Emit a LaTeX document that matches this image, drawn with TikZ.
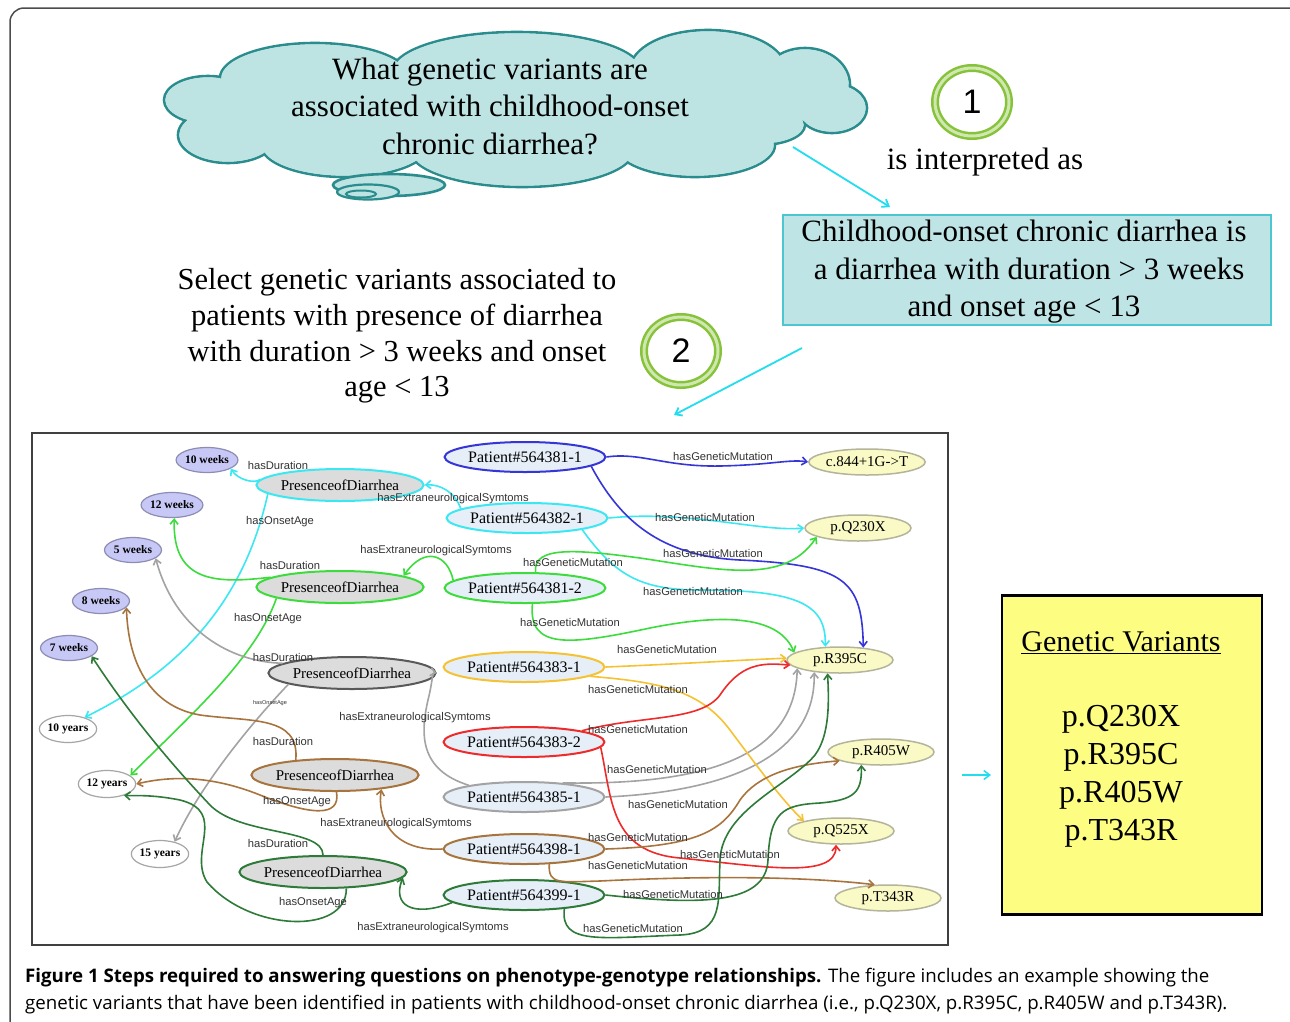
\documentclass[tikz,border=0pt]{standalone}
\usepackage{fontspec}
\setmainfont{Liberation Serif}
\newfontfamily\lblfont{Liberation Sans}
\newfontfamily\capfont{Open Sans}
\usetikzlibrary{shapes.geometric,arrows.meta}
\definecolor{cloudfill}{HTML}{BDE3E3}
\definecolor{cloudline}{HTML}{2A8C8C}
\definecolor{boxfill}{HTML}{BFE4E6}
\definecolor{boxline}{HTML}{4CC6CF}
\definecolor{ringgreen}{HTML}{86C23A}
\definecolor{ringlight}{HTML}{CFE8B0}
\definecolor{arrcyan}{HTML}{22DDEE}
\definecolor{ecyan}{HTML}{3BE8F2}
\definecolor{eblue}{HTML}{3535D8}
\definecolor{egreen}{HTML}{3CDC3C}
\definecolor{egray}{HTML}{A3A3A3}
\definecolor{eyellow}{HTML}{F4C232}
\definecolor{ered}{HTML}{EE2A2A}
\definecolor{ebrown}{HTML}{A8743E}
\definecolor{edgreen}{HTML}{2E7A38}
\definecolor{ptfill}{HTML}{E6EEF8}
\definecolor{prfill}{HTML}{DCDCDC}
\definecolor{mutfill}{HTML}{FAFAC6}
\definecolor{mutline}{HTML}{B4B49A}
\definecolor{wkfill}{HTML}{C8C8F6}
\definecolor{wkline}{HTML}{8C8CB4}
\definecolor{gvfill}{HTML}{FDFD82}
\tikzset{
  big/.style={font=\fontsize{31}{37.5}\selectfont, align=center, inner sep=0},
  ring/.style={ellipse, draw=ringgreen, line width=2.5pt, double=ringlight, double distance=3pt, fill=white, minimum width=74pt, minimum height=68pt, inner sep=0, font=\lblfont\fontsize{34}{34}\selectfont},
  steparrow/.style={arrcyan, line width=1.8pt, -{Straight Barb[length=6pt,width=9pt]}},
  ptn/.style={ellipse, fill=ptfill, line width=2pt, minimum width=134pt, minimum height=30pt, inner sep=0, font=\fontsize{16}{16}\selectfont},
  prn/.style={ellipse, fill=prfill, line width=2pt, minimum width=136pt, minimum height=32pt, inner sep=0, font=\fontsize{15}{15}\selectfont},
  mutn/.style={ellipse, fill=mutfill, draw=mutline, line width=1.5pt, minimum width=106pt, minimum height=26pt, inner sep=0, font=\fontsize{15}{15}\selectfont},
  wkn/.style={ellipse, fill=wkfill, draw=wkline, line width=1.2pt, minimum width=57pt, minimum height=25pt, inner sep=0, font=\bfseries\fontsize{11.5}{11.5}\selectfont},
  yrn/.style={ellipse, fill=white, draw=gray!70, line width=1.2pt, minimum width=56pt, minimum height=27pt, inner sep=0, font=\bfseries\fontsize{11.5}{11.5}\selectfont},
  lbl/.style={font=\lblfont\fontsize{11.2}{11.2}\selectfont, inner sep=0, text=black!80},
  rel/.style={line width=1.6pt, -{Straight Barb[length=5pt,width=8pt]}},
  puff/.style={draw=cloudline, line width=2.6pt, fill=cloudfill},
  pufffill/.style={fill=cloudfill},
}
\begin{document}
\begin{tikzpicture}[x=1pt,y=-1pt]
\useasboundingbox (0,0) rectangle (1290,1021);
\clip (0,0) rectangle (1290,1021);
\fill[white] (0,0) rectangle (1290,1021);
\draw[line width=1.5pt, black!70, rounded corners=14pt] (10,8) rectangle (1320,1050);

% ---- cloud ----
\def\cloudlobes{208/100/44/24, 228/135/50/28, 315/78/95/35, 517/72/125/40, 708/70/78/40, 805/85/45/37, 832/108/35/25, 760/125/45/20, 695/145/80/32, 522/150/112/37, 345/145/84/32}
\foreach \cx/\cy/\rx/\ry in \cloudlobes
  \path[puff] (\cx,\cy) ellipse [x radius=\rx, y radius=\ry];
\foreach \cx/\cy/\rx/\ry in \cloudlobes
  \path[pufffill] (\cx,\cy) ellipse [x radius={\rx-1.3}, y radius={\ry-1.3}];
\path[pufffill] (515,110) ellipse [x radius=285, y radius=48];
\path[puff] (389,185) ellipse [x radius=56, y radius=11];
\path[puff, line width=2.2pt] (368,192) ellipse [x radius=31, y radius=7.5];
\path[puff, line width=2pt] (361,194) ellipse [x radius=15, y radius=3.5];
\node[big] (question) at (490,106) {What genetic variants are\\associated with childhood-onset\\chronic diarrhea?};

\node[ring] (one) at (972,102) {1};
\node[big] (interp) at (985,162) {is interpreted as};
\node[draw=boxline, line width=1.8pt, fill=boxfill, minimum width=488pt, minimum height=110pt, inner sep=0] (defbox) at (1027,270) {};
\node[big] (deftext) at (1024,272) {Childhood-onset chronic diarrhea is\\\,\,a diarrhea with duration > 3 weeks\\and onset age < 13};
\node[big, font=\fontsize{30.5}{35.7}\selectfont] (select) at (397,336) {Select genetic variants associated to\\patients with presence of diarrhea\\with duration > 3 weeks and onset\\age < 13};
\node[ring] (two) at (681,351) {2};

\coordinate (a1s) at (793,147);
\coordinate (a1e) at (890,207);
\coordinate (a2s) at (802,348);
\coordinate (a2e) at (674,415);
\draw[steparrow] (a1s) -- (a1e);
\draw[steparrow] (a2s) -- (a2e);

% ---- graph frame ----
\node[draw=black!75, line width=2pt, minimum width=916pt, minimum height=512pt, inner sep=0] (graph) at (490,689) {};

% ---- value nodes ----
\node[wkn] (w10) at (207,460) {10 weeks};
\node[wkn] (w12) at (172,505) {12 weeks};
\node[wkn] (w5) at (133,550) {5 weeks};
\node[wkn] (w8) at (101,601) {8 weeks};
\node[wkn] (w7) at (69,648) {7 weeks};
\node[yrn] (y10) at (68,729) {10 years};
\node[yrn] (y12) at (107,784) {12 years};
\node[yrn] (y15) at (160,854) {15 years};

% ---- presence nodes ----
\node[prn, draw=ecyan] (pa) at (340,485) {PresenceofDiarrhea};
\node[prn, draw=egreen] (pb) at (340,587) {PresenceofDiarrhea};
\node[prn, draw=black!65] (pc) at (352,673) {PresenceofDiarrhea};
\node[prn, draw=ebrown] (pd) at (335,775) {PresenceofDiarrhea};
\node[prn, draw=edgreen] (pe) at (323,872) {PresenceofDiarrhea};

% ---- patients ----
\node[ptn, draw=eblue] (t1) at (525,457) {Patient\#564381-1};
\node[ptn, draw=ecyan] (t2) at (527,518) {Patient\#564382-1};
\node[ptn, draw=egreen] (t3) at (525,588) {Patient\#564381-2};
\node[ptn, draw=eyellow] (t4) at (524,667) {Patient\#564383-1};
\node[ptn, draw=ered] (t5) at (524,742) {Patient\#564383-2};
\node[ptn, draw=egray] (t6) at (524,797) {Patient\#564385-1};
\node[ptn, draw=ebrown] (t7) at (524,849) {Patient\#564398-1};
\node[ptn, draw=edgreen] (t8) at (524,895) {Patient\#564399-1};

% ---- mutations ----
\node[mutn] (m1) at (867,462) {c.844+1G->T};
\node[mutn] (m2) at (858,528) {p.Q230X};
\node[mutn] (m3) at (840,660) {p.R395C};
\node[mutn] (m4) at (881,752) {p.R405W};
\node[mutn] (m5) at (841,831) {p.Q525X};
\node[mutn] (m6) at (888,898) {p.T343R};

% ---- edges ----
% cyan
\draw[rel, ecyan] (t2.172) .. controls (455,492) and (440,484) .. (pa.east);
\draw[rel, ecyan] (pa.176) .. controls (255,484) and (238,480) .. (w10.-20);
\draw[rel, ecyan] (pa.187) .. controls (240,620) and (160,680) .. (y10.35);
\draw[rel, ecyan] (t2.east) .. controls (690,510) and (760,532) .. (m2.west);
\draw[rel, ecyan] (t2.-12) .. controls (615,575) and (640,590) .. (700,590) .. controls (800,590) and (826,605) .. (m3.138);
% blue
\draw[rel, eblue] (t1.east) .. controls (640,452) and (665,467) .. (720,466) .. controls (770,465) and (790,459) .. (m1.west);
\draw[rel, eblue] (t1.-8) .. controls (620,520) and (660,556) .. (740,560) .. controls (845,565) and (862,580) .. (m3.28);
% green
\draw[rel, egreen] (t3.174) .. controls (448,555) and (425,545) .. (pb.10);
\draw[rel, egreen] (pb.172) .. controls (220,583) and (172,585) .. (w12.-80);
\draw[rel, egreen] (pb.190) .. controls (255,660) and (185,720) .. (y12.20);
\draw[rel, egreen] (t3.56) .. controls (532,545) and (580,550) .. (640,558) .. controls (720,570) and (785,585) .. (m2.192);
\draw[rel, egreen] (t3.-65) .. controls (528,650) and (570,645) .. (650,628) .. controls (730,612) and (780,618) .. (m3.171);
% gray
\draw[rel, egray] (pc.172) .. controls (230,662) and (175,630) .. (w5.-20);
\draw[rel, egray] (pc.190) .. controls (245,730) and (198,790) .. (y15.40);
\draw[rel, egray] (t6.168) .. controls (420,770) and (420,735) .. (428,700) .. controls (433,680) and (432,672) .. (pc.east);
\draw[rel, egray] (t6.20) .. controls (700,785) and (795,760) .. (m3.191);
\draw[rel, egray] (t6.east) .. controls (720,792) and (816,760) .. (m3.205);
% yellow
\draw[rel, eyellow] (t4.east) .. controls (680,664) and (740,660) .. (m3.178);
\draw[rel, eyellow] (t4.-8) .. controls (660,682) and (700,690) .. (730,730) .. controls (760,770) and (782,800) .. (m5.165);
% red
\draw[rel, ered] (t5.11) .. controls (640,715) and (700,722) .. (720,695) .. controls (740,665) and (760,662) .. (m3.186);
\draw[rel, ered] (t5.-4) .. controls (612,800) and (610,852) .. (680,858) .. controls (760,866) and (836,880) .. (m5.-110);
% brown
\draw[rel, ebrown] (t7.west) .. controls (390,852) and (377,815) .. (pd.-17);
\draw[rel, ebrown] (pd.159) .. controls (300,715) and (250,722) .. (200,715) .. controls (148,706) and (128,660) .. (w8.-14);
\draw[rel, ebrown] (pd.-85) .. controls (341,818) and (310,815) .. (260,795) .. controls (210,775) and (170,776) .. (y12.east);
\draw[rel, ebrown] (t7.east) .. controls (700,846) and (722,830) .. (740,800) .. controls (760,772) and (800,764) .. (m4.192);
\draw[rel, ebrown] (t7.-31) .. controls (548,885) and (560,882) .. (600,881) .. controls (700,876) and (800,876) .. (m6.135);
% dark green
\draw[rel, edgreen] (t8.186) .. controls (412,918) and (392,905) .. (pe.-4);
\draw[rel, edgreen] (pe.north) .. controls (323,828) and (240,836) .. (210,805) .. controls (172,765) and (130,715) .. (w7.-20);
\draw[rel, edgreen] (pe.-35) .. controls (347,935) and (250,932) .. (207,882) .. controls (188,852) and (228,812) .. (180,800) .. controls (150,794) and (132,796) .. (y12.-34);
\draw[rel, edgreen] (t8.east) .. controls (700,905) and (766,905) .. (768,860) .. controls (770,812) and (782,805) .. (820,803) .. controls (855,800) and (862,792) .. (m4.213);
\draw[rel, edgreen] (t8.-19) .. controls (560,945) and (600,938) .. (680,935) .. controls (725,933) and (718,900) .. (720,860) .. controls (722,810) and (790,785) .. (815,755) .. controls (830,735) and (829,700) .. (m3.227);

% ---- edge labels ----
\node[lbl] (l1) at (278,465) {hasDuration};
\node[lbl] (l2) at (453,499) {hasExtraneurologicalSymtoms};
\node[lbl] (l3) at (280,522) {hasOnsetAge};
\node[lbl] (l4) at (436,551) {hasExtraneurologicalSymtoms};
\node[lbl] (l5) at (290,565) {hasDuration};
\node[lbl] (l6) at (268,619) {hasOnsetAge};
\node[lbl] (l7) at (283,657) {hasDuration};
\node[lbl, font=\lblfont\fontsize{5.6}{5.6}\selectfont] (l8) at (270,703) {hasOnsetAge};
\node[lbl] (l9) at (415,718) {hasExtraneurologicalSymtoms};
\node[lbl] (l10) at (283,741) {hasDuration};
\node[lbl] (l11) at (297,802) {hasOnsetAge};
\node[lbl] (l12) at (396,824) {hasExtraneurologicalSymtoms};
\node[lbl] (l13) at (278,843) {hasDuration};
\node[lbl] (l14) at (313,903) {hasOnsetAge};
\node[lbl] (l15) at (433,928) {hasExtraneurologicalSymtoms};
\node[lbl] (g1) at (723,456) {hasGeneticMutation};
\node[lbl] (g2) at (705,517) {hasGeneticMutation};
\node[lbl] (g3) at (713,553) {hasGeneticMutation};
\node[lbl] (g4) at (573,562) {hasGeneticMutation};
\node[lbl] (g5) at (693,591) {hasGeneticMutation};
\node[lbl] (g6) at (570,622) {hasGeneticMutation};
\node[lbl] (g7) at (667,649) {hasGeneticMutation};
\node[lbl] (g8) at (638,689) {hasGeneticMutation};
\node[lbl] (g9) at (638,729) {hasGeneticMutation};
\node[lbl] (g10) at (657,769) {hasGeneticMutation};
\node[lbl] (g11) at (678,804) {hasGeneticMutation};
\node[lbl] (g12) at (638,837) {hasGeneticMutation};
\node[lbl] (g13) at (730,854) {hasGeneticMutation};
\node[lbl] (g14) at (638,865) {hasGeneticMutation};
\node[lbl] (g15) at (673,894) {hasGeneticMutation};
\node[lbl] (g16) at (633,928) {hasGeneticMutation};

% ---- result box ----
\node[draw=black, line width=2.2pt, fill=gvfill, minimum width=260pt, minimum height=319pt, inner sep=0] (gv) at (1132,755) {};
\node[font=\fontsize{30}{30}\selectfont, inner sep=0] (gvtitle) at (1121,643) {\underline{Genetic Variants}};
\node[big, font=\fontsize{32}{38}\selectfont] (gvlist) at (1121,776) {p.Q230X\\p.R395C\\p.R405W\\p.T343R};
\coordinate (a3s) at (962,775);
\coordinate (a3e) at (991,775);
\draw[steparrow, line width=1.5pt] (a3s) -- (a3e);

% ---- caption ----
\node[anchor=base west, inner sep=0, font=\capfont\fontsize{18.7}{18.7}\selectfont] (cap1) at (25,982) {\textbf{Figure 1 Steps required to answering questions on phenotype-genotype relationships.} The figure includes an example showing the};
\node[anchor=base west, inner sep=0, font=\capfont\fontsize{18.7}{18.7}\selectfont] (cap2) at (25,1009) {genetic variants that have been identified in patients with childhood-onset chronic diarrhea (i.e., p.Q230X, p.R395C, p.R405W and p.T343R).};
\end{tikzpicture}
\end{document}
